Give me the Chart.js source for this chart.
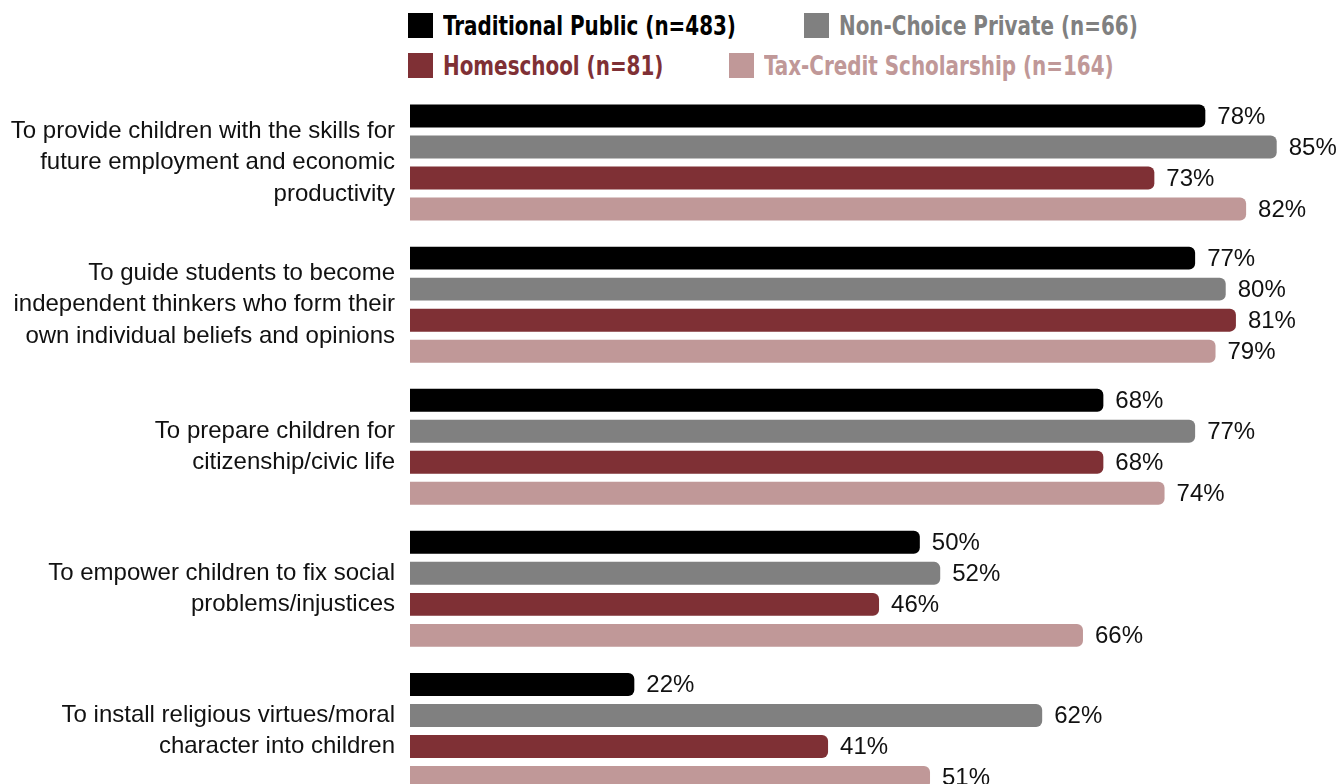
<!DOCTYPE html>
<html>
<head>
<meta charset="utf-8">
<script src="https://cdn.jsdelivr.net/npm/chart.js@4"></script>
<style>
  html, body { margin:0; padding:0; background:#fff; overflow:hidden; width:1344px; height:784px; }
  #c { position:absolute; left:0; top:0; }
  #legend { position:absolute; left:408px; top:0; width:936px; font-family:"DejaVu Sans Condensed","DejaVu Sans",sans-serif; font-weight:bold; font-size:27px; }
  .row { position:absolute; left:0; height:40px; display:flex; align-items:center; white-space:nowrap; }
  .item { display:flex; align-items:center; }
  .box { width:25px; height:25px; margin-right:10px; flex:none; }
  .txt { display:inline-block; overflow:visible; }
  .txt span { display:inline-block; transform-origin:0 50%; transform:scaleX(0.82); }
</style>
</head>
<body>
<div id="legend"></div>
<canvas id="c" width="1344" height="802"></canvas>
<script>
const categories = [
  ["To provide children with the skills for","future employment and economic","productivity"],
  ["To guide students to become","independent thinkers who form their","own individual beliefs and opinions"],
  ["To prepare children for","citizenship/civic life"],
  ["To empower children to fix social","problems/injustices"],
  ["To install religious virtues/moral","character into children"]
];
const seriesNames = ["Traditional Public (n=483)","Non-Choice Private (n=66)","Homeschool (n=81)","Tax-Credit Scholarship (n=164)"];
const seriesColors = ["#000000","#808080","#7f3035","#c09898"];
const traditionalPublic = [78, 77, 68, 50, 22];
const nonChoicePrivate = [85, 80, 77, 52, 62];
const homeschool = [73, 81, 68, 46, 41];
const taxCreditScholarship = [82, 79, 74, 66, 51];
const seriesValues = [traditionalPublic, nonChoicePrivate, homeschool, taxCreditScholarship];

// HTML legend (2 rows, left aligned flow)
const legend = document.getElementById('legend');
const rows = [[0,1],[2,3]];
const rowTops = [5, 45];
const gaps = [68, 66];
rows.forEach((r, ri) => {
  const row = document.createElement('div');
  row.className = 'row';
  row.style.top = rowTops[ri] + 'px';
  r.forEach((si, k) => {
    const it = document.createElement('div');
    it.className = 'item';
    if (k > 0) it.style.marginLeft = gaps[ri] + 'px';
    const b = document.createElement('div');
    b.className = 'box';
    b.style.background = seriesColors[si];
    const t = document.createElement('div');
    t.className = 'txt';
    const s = document.createElement('span');
    s.textContent = seriesNames[si];
    s.style.color = seriesColors[si];
    t.appendChild(s);
    it.appendChild(b); it.appendChild(t);
    row.appendChild(it);
  });
  legend.appendChild(row);
});
document.querySelectorAll('.txt').forEach(t => {
  const w = t.firstChild.getBoundingClientRect().width;
  t.style.width = w + 'px';
});

const valueLabels = {
  id: 'valueLabels',
  afterDatasetsDraw(chart) {
    const ctx = chart.ctx;
    ctx.save();
    ctx.font = '24px "Liberation Sans", Arial, sans-serif';
    ctx.fillStyle = '#111';
    ctx.textAlign = 'left';
    ctx.textBaseline = 'middle';
    chart.data.datasets.forEach((ds, di) => {
      const meta = chart.getDatasetMeta(di);
      meta.data.forEach((bar, i) => {
        ctx.fillText(ds.data[i] + '%', bar.x + 12, bar.y + 1);
      });
    });
    ctx.restore();
  }
};

new Chart(document.getElementById('c'), {
  type: 'bar',
  data: {
    labels: categories,
    datasets: seriesValues.map((vals, i) => ({
      label: seriesNames[i],
      data: vals,
      backgroundColor: seriesColors[i],
      borderWidth: 0,
      borderRadius: 6,
      borderSkipped: 'start',
      categoryPercentage: 0.873,
      barPercentage: 0.74
    }))
  },
  options: {
    indexAxis: 'y',
    responsive: false,
    maintainAspectRatio: false,
    animation: false,
    layout: { padding: { top: 91.5, right: 0, bottom: 0, left: 0 } },
    plugins: { legend: { display: false }, tooltip: { enabled: false } },
    scales: {
      x: { display: false, min: 0, max: 91.6 },
      y: {
        grid: { display: false, drawTicks: false },
        border: { display: false },
        ticks: {
          padding: 15,
          color: '#111',
          font: { family: '"Liberation Sans", Arial, sans-serif', size: 24, lineHeight: 1.31 }
        },
        afterFit(scale) { scale.width = 410; scale.paddingTop = 0; scale.paddingBottom = 0; }
      }
    }
  },
  plugins: [valueLabels]
});
</script>
</body>
</html>
